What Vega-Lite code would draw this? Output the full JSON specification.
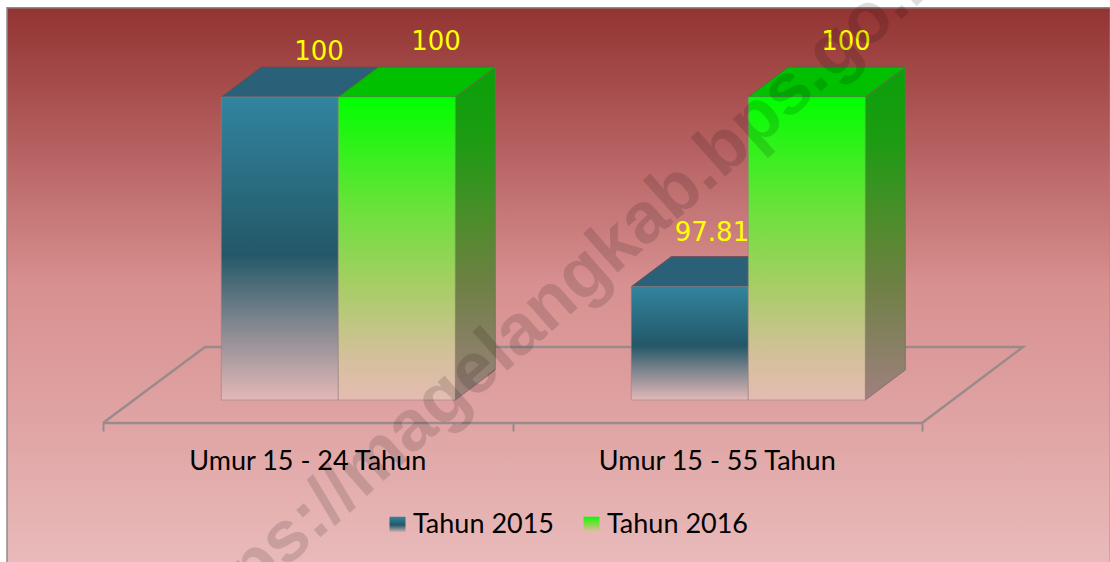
{"$schema":"https://vega.github.io/schema/vega-lite/v6.json","width":1110,"height":562,"autosize":"none","padding":0,"background":"white","config":{"view":{"stroke":null}},
"datasets":{"bars":[{"category":"Umur 15 - 24 Tahun","series":"Tahun 2015","value":100},{"category":"Umur 15 - 24 Tahun","series":"Tahun 2016","value":100},{"category":"Umur 15 - 55 Tahun","series":"Tahun 2015","value":97.81},{"category":"Umur 15 - 55 Tahun","series":"Tahun 2016","value":100}]},
"layer":[
{"data":{"values":[{"x":-0.2344,"x2":2.46,"y":101.03,"y2":94.62}]},"mark":{"type":"rect","stroke":"#8c8c8c","strokeWidth":1.5,"fill":{"gradient":"linear","x1":0,"y1":0,"x2":0,"y2":1,"stops":[{"offset":0,"color":"#923432"},{"offset":0.25,"color":"#b56060"},{"offset":0.5,"color":"#d89090"},{"offset":0.75,"color":"#e0a4a4"},{"offset":1,"color":"#e9baba"}]}},
"encoding":{"x":{"field":"x","type":"quantitative","scale":{"domain":[-0.25153,2.4591],"nice":false,"zero":false},"axis":{"values":[0,1,2],"offset":-139,"tickSize":8,"tickColor":"#9a8a8a","tickWidth":2,"labels":false,"domain":false,"grid":false,"title":null,"zindex":1}},"x2":{"field":"x2"},"y":{"field":"y","type":"quantitative","scale":{"domain":[94.6286,101.1205],"nice":false,"zero":false},"axis":null},"y2":{"field":"y2"}}},
{"data":{"values":[{"o":1,"x":0,"y":96.234},{"o":2,"x":0.249,"y":97.112},{"o":3,"x":2.2466,"y":97.112},{"o":4,"x":2,"y":96.234},{"o":5,"x":0,"y":96.234}]},"mark":{"type":"line","stroke":"#9a8a8a","strokeWidth":2.5},"encoding":{"x":{"field":"x","type":"quantitative"},"y":{"field":"y","type":"quantitative"},"order":{"field":"o"}}},
{"data":{"name":"bars"},"transform":[{"filter":"datum.series=='Tahun 2015'"},{"calculate":"(datum.category=='Umur 15 - 24 Tahun'?0:1.0012)+0.2889","as":"x0"},{"calculate":"datum.x0+0.2857","as":"x1"},{"calculate":"[0,1]","as":"d"},{"flatten":["d"]},{"calculate":"datum.x0+datum.d*0.0977","as":"tx0"},{"calculate":"datum.x1+datum.d*0.0977","as":"tx1"},{"calculate":"datum.value+datum.d*0.3465","as":"ty"}],
"mark":{"type":"area","orient":"horizontal","fill":"#2b6178","stroke":"#6e4a50","strokeWidth":0.8},"encoding":{"y":{"field":"ty","type":"quantitative"},"x":{"field":"tx0","type":"quantitative"},"x2":{"field":"tx1"},"detail":{"field":"category"}}},
{"data":{"name":"bars"},"transform":[{"filter":"datum.series=='Tahun 2016'"},{"calculate":"(datum.category=='Umur 15 - 24 Tahun'?0:1.0012)+0.5746","as":"x0"},{"calculate":"datum.x0+0.2857","as":"x1"},{"calculate":"[0,1]","as":"d"},{"flatten":["d"]},{"calculate":"datum.x0+datum.d*0.0977","as":"tx0"},{"calculate":"datum.x1+datum.d*0.0977","as":"tx1"},{"calculate":"datum.value+datum.d*0.3465","as":"ty"}],
"mark":{"type":"area","orient":"horizontal","fill":"#00c000","stroke":"#3f7038","strokeWidth":0.8},"encoding":{"y":{"field":"ty","type":"quantitative"},"x":{"field":"tx0","type":"quantitative"},"x2":{"field":"tx1"},"detail":{"field":"category"}}},
{"data":{"name":"bars"},"transform":[{"filter":"datum.series=='Tahun 2016'"},{"calculate":"(datum.category=='Umur 15 - 24 Tahun'?0:1.0012)+0.8603","as":"x1"},{"calculate":"[0,1]","as":"d"},{"flatten":["d"]},{"calculate":"datum.x1+datum.d*0.0977","as":"sx"},{"calculate":"datum.value+datum.d*0.3465","as":"sy"},{"calculate":"96.5+datum.d*0.3465","as":"sb"}],
"mark":{"type":"area","stroke":"#7a6a60","strokeWidth":0.8,"fill":{"gradient":"linear","x1":0,"y1":0,"x2":0,"y2":1,"stops":[{"offset":0,"color":"#0aa008"},{"offset":0.22,"color":"#1c9c12"},{"offset":0.5,"color":"#558a30"},{"offset":0.65,"color":"#6e8044"},{"offset":1,"color":"#a08080"}]}},"encoding":{"x":{"field":"sx","type":"quantitative"},"y":{"field":"sy","type":"quantitative"},"y2":{"field":"sb"},"detail":{"field":"category"}}},
{"data":{"name":"bars"},"transform":[{"calculate":"(datum.category=='Umur 15 - 24 Tahun'?0:1.0012)+(datum.series=='Tahun 2015'?0.2889:0.5746)","as":"x0"},{"calculate":"datum.x0+0.2857","as":"x1"},{"calculate":"96.5","as":"base"}],
"mark":{"type":"rect","stroke":"#8f7f7f","strokeWidth":1,"strokeOpacity":0.55,"fillOpacity":1},"encoding":{"x":{"field":"x0","type":"quantitative"},"x2":{"field":"x1"},"y":{"field":"value","type":"quantitative"},"y2":{"field":"base"},
"fill":{"field":"series","type":"nominal","scale":{"domain":["Tahun 2015","Tahun 2016"],"range":[{"expr":"{gradient:'linear',x1:0,y1:0,x2:0,y2:1,stops:[{offset:0,color:'#32849f'},{offset:0.52,color:'#235868'},{offset:0.75,color:'#81878f'},{offset:1,color:'#e3b8b8'}]}"},{"expr":"{gradient:'linear',x1:0,y1:0,x2:0,y2:1,stops:[{offset:0,color:'#00ff00'},{offset:0.35,color:'#66e338'},{offset:0.62,color:'#a6ce64'},{offset:0.85,color:'#d3c09a'},{offset:1,color:'#e5bcb2'}]}"}]},
"legend":{"orient":"none","legendX":384,"legendY":511,"direction":"horizontal","columns":2,"title":null,"symbolType":"square","symbolSize":256,"symbolStrokeWidth":0,"labelFont":"Lato","labelFontSize":27,"labelColor":"#000000","labelOffset":2,"columnPadding":23,"labelLimit":300}}}},
{"data":{"name":"bars"},"transform":[{"calculate":"(datum.category=='Umur 15 - 24 Tahun'?0:1.0012)+(datum.series=='Tahun 2015'?0.2869:0.5726)+0.1428+0.0977+(datum.value<100?-0.0415:0)","as":"lx"},{"calculate":"datum.value+0.3465+(datum.value<100?0.277:(datum.series=='Tahun 2015'?0.173:0.289))","as":"ly"}],
"mark":{"type":"text","font":"DejaVu Sans","fontSize":26,"color":"#ffff00","baseline":"middle"},"encoding":{"x":{"field":"lx","type":"quantitative"},"y":{"field":"ly","type":"quantitative"},"text":{"field":"value","type":"quantitative"}}},
{"data":{"values":[{"category":"Umur 15 - 24 Tahun","p":0.5},{"category":"Umur 15 - 55 Tahun","p":1.5}]},"mark":{"type":"text","font":"Lato","fontSize":27,"color":"#000000","baseline":"middle"},"encoding":{"x":{"field":"p","type":"quantitative"},"y":{"datum":95.784,"type":"quantitative"},"text":{"field":"category"}}},
{"data":{"values":[{"t":"https://magelangkab.bps.go.id"}]},"mark":{"type":"text","font":"Liberation Sans","fontWeight":"bold","fontSize":72,"angle":318.3,"color":"#000000","opacity":0.13,"baseline":"middle"},"encoding":{"x":{"datum":1.1099,"type":"quantitative"},"y":{"datum":97.6956,"type":"quantitative"},"text":{"field":"t"}}}
]}
